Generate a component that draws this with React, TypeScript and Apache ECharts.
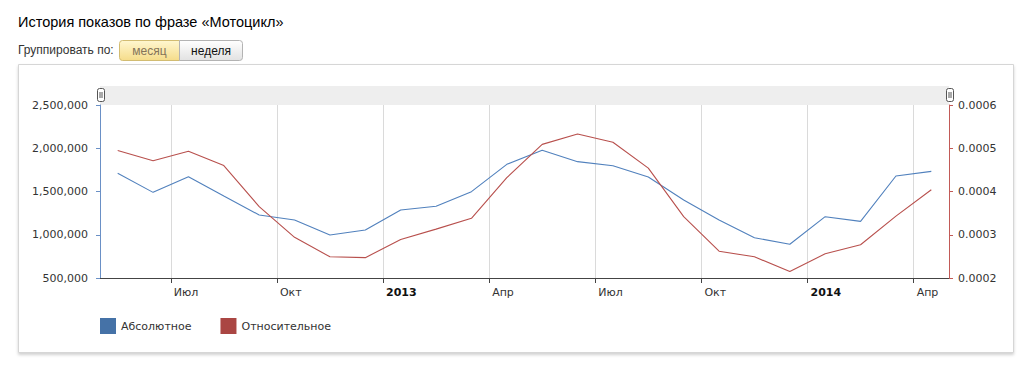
import React, { useEffect, useRef } from "react";
import * as echarts from "echarts";

// Months (mid-month data points), May 2012 .. Apr 2014
const months = [
  "2012-05", "2012-06", "2012-07", "2012-08", "2012-09", "2012-10", "2012-11", "2012-12",
  "2013-01", "2013-02", "2013-03", "2013-04", "2013-05", "2013-06", "2013-07", "2013-08",
  "2013-09", "2013-10", "2013-11", "2013-12", "2014-01", "2014-02", "2014-03", "2014-04",
];

const absoluteValues = [
  1710000, 1490000, 1671000, 1448000, 1228000, 1170000, 997000, 1055000,
  1286000, 1329000, 1498000, 1814000, 1976000, 1845000, 1798000, 1668000,
  1402000, 1170000, 966000, 890000, 1209000, 1155000, 1679000, 1733000,
];

const relativeValues = [
  0.000495, 0.000471, 0.000493, 0.00046, 0.000365, 0.000294, 0.000249, 0.000247,
  0.000289, 0.000313, 0.000338, 0.000432, 0.000509, 0.000533, 0.000514, 0.000454,
  0.000342, 0.000262, 0.000249, 0.000215, 0.000256, 0.000277, 0.000343, 0.000404,
];

const tickMonths = ["2012-07", "2012-10", "2013-01", "2013-04", "2013-07", "2013-10", "2014-01", "2014-04"];
const tickLabels = ["Июл", "Окт", "2013", "Апр", "Июл", "Окт", "2014", "Апр"];

const seriesNames = ["Абсолютное", "Относительное"];

// month start coordinate: months since Jan 2012
const monthStart = (s: string) => {
  const [y, m] = s.split("-").map(Number);
  return (y - 2012) * 12 + (m - 1);
};
const monthMid = (s: string) => monthStart(s) + 0.5;

const BLUE = "#4572A7";
const RED = "#AA4643";
const AXIS_FONT = "DejaVu Sans, Verdana, sans-serif";
const UI_FONT = "Liberation Sans, Arial, sans-serif";

export default function App() {
  const ref = useRef<HTMLDivElement>(null);

  useEffect(() => {
    if (!ref.current) return;
    const chart = echarts.init(ref.current, null, { renderer: "svg" });
    const tickX = tickMonths.map(monthStart);

    chart.setOption({
      animation: false,
      backgroundColor: "#fff",
      title: {
        text: "История показов по фразе «Мотоцикл»",
        left: 18,
        top: 14,
        padding: 0,
        textStyle: { fontSize: 14.5, fontWeight: "normal", fontFamily: UI_FONT, color: "#000" },
      },
      graphic: {
        elements: [
          {
            type: "rect",
            z: -10,
            shape: { x: 18.5, y: 64.5, width: 995, height: 288 },
            style: {
              fill: "#fff",
              stroke: "#d6d6d6",
              lineWidth: 1,
              shadowBlur: 3,
              shadowOffsetY: 2,
              shadowColor: "rgba(0,0,0,0.18)",
            },
          },
          {
            type: "text",
            x: 18,
            y: 50,
            style: {
              text: "Группировать по:",
              font: `12px ${UI_FONT}`,
              fill: "#333",
              verticalAlign: "middle",
            },
          },
          {
            type: "rect",
            shape: { x: 119.5, y: 40.5, width: 60, height: 20, r: [3, 0, 0, 3] },
            style: {
              fill: new echarts.graphic.LinearGradient(0, 0, 0, 1, [
                { offset: 0, color: "#fff7d0" },
                { offset: 1, color: "#f5dc8a" },
              ]),
              stroke: "#d2bc72",
            },
          },
          {
            type: "text",
            x: 149.5,
            y: 51,
            style: {
              text: "месяц",
              font: `12px ${UI_FONT}`,
              fill: "#857459",
              align: "center",
              verticalAlign: "middle",
            },
          },
          {
            type: "rect",
            shape: { x: 179.5, y: 40.5, width: 63, height: 20, r: [0, 3, 3, 0] },
            style: {
              fill: new echarts.graphic.LinearGradient(0, 0, 0, 1, [
                { offset: 0, color: "#ffffff" },
                { offset: 1, color: "#e2e2e2" },
              ]),
              stroke: "#b3b3b3",
            },
          },
          {
            type: "text",
            x: 211,
            y: 51,
            style: {
              text: "неделя",
              font: `12px ${UI_FONT}`,
              fill: "#111",
              align: "center",
              verticalAlign: "middle",
            },
          },
          {
            type: "rect",
            shape: { x: 100, y: 86, width: 849, height: 19 },
            style: { fill: "#eeeeee" },
          },
          {
            type: "rect",
            shape: { x: 97.5, y: 88.5, width: 7, height: 13, r: 2 },
            style: { fill: "#fff", stroke: "#555" },
          },
          { type: "line", shape: { x1: 100, y1: 92, x2: 100, y2: 98 }, style: { stroke: "#555" } },
          { type: "line", shape: { x1: 102, y1: 92, x2: 102, y2: 98 }, style: { stroke: "#555" } },
          {
            type: "rect",
            shape: { x: 946.5, y: 88.5, width: 7, height: 13, r: 2 },
            style: { fill: "#fff", stroke: "#555" },
          },
          { type: "line", shape: { x1: 949, y1: 92, x2: 949, y2: 98 }, style: { stroke: "#555" } },
          { type: "line", shape: { x1: 951, y1: 92, x2: 951, y2: 98 }, style: { stroke: "#555" } },
        ],
      },
      legend: {
        left: 100,
        top: 318,
        padding: 0,
        itemWidth: 16,
        itemHeight: 16,
        itemGap: 29,
        icon: "rect",
        data: seriesNames,
        textStyle: { fontSize: 11, fontFamily: AXIS_FONT, color: "#333" },
      },
      grid: { left: 100, right: 75, top: 105, bottom: 87 },
      xAxis: {
        type: "value",
        min: 4,
        max: 28,
        axisLine: { show: true, lineStyle: { color: "#444", width: 1 } },
        axisTick: { show: true, length: 5, customValues: tickX, lineStyle: { color: "#444" } },
        axisLabel: {
          customValues: tickX,
          align: "left",
          margin: 9,
          padding: [0, 0, 0, 3],
          fontSize: 11,
          fontFamily: AXIS_FONT,
          color: "#333",
          formatter: (v: number) => {
            const i = tickX.indexOf(v);
            if (i < 0) return "";
            const t = tickLabels[i];
            return /^\d{4}$/.test(t) ? `{b|${t}}` : t;
          },
          rich: {
            b: { fontWeight: "bold", fontSize: 11, fontFamily: AXIS_FONT, color: "#111" },
          },
        },
        splitLine: { show: true, lineStyle: { color: "#dadada", width: 1 } },
      },
      yAxis: [
        {
          type: "value",
          position: "left",
          min: 500000,
          max: 2500000,
          interval: 500000,
          axisLine: { show: true, lineStyle: { color: "#6a90c6", width: 1 } },
          axisTick: { show: true, length: 4, lineStyle: { color: "#6a90c6" } },
          splitLine: { show: false },
          axisLabel: {
            margin: 12,
            fontSize: 11,
            fontFamily: AXIS_FONT,
            color: "#333",
            formatter: (v: number) => v.toLocaleString("en-US"),
          },
        },
        {
          type: "value",
          position: "right",
          min: 0.0002,
          max: 0.0006,
          interval: 0.0001,
          axisLine: { show: true, lineStyle: { color: "#c25a57", width: 1 } },
          axisTick: { show: true, length: 4, lineStyle: { color: "#c25a57" } },
          splitLine: { show: false },
          axisLabel: {
            margin: 9,
            fontSize: 11,
            fontFamily: AXIS_FONT,
            color: "#333",
            formatter: (v: number) => v.toFixed(4),
          },
        },
      ],
      series: [
        {
          name: seriesNames[0],
          type: "line",
          yAxisIndex: 0,
          showSymbol: false,
          symbol: "none",
          color: BLUE,
          itemStyle: { color: BLUE },
          lineStyle: { color: "#5181bd", width: 1.1 },
          data: months.map((m, i) => [monthMid(m), absoluteValues[i]]),
        },
        {
          name: seriesNames[1],
          type: "line",
          yAxisIndex: 1,
          showSymbol: false,
          symbol: "none",
          color: RED,
          itemStyle: { color: RED },
          lineStyle: { color: "#b8504d", width: 1.1 },
          data: months.map((m, i) => [monthMid(m), relativeValues[i]]),
        },
      ],
    });

    return () => chart.dispose();
  }, []);

  return (
    <div
      ref={ref}
      style={{ position: "absolute", left: 0, top: 0, width: 1024, height: 365 }}
    />
  );
}
